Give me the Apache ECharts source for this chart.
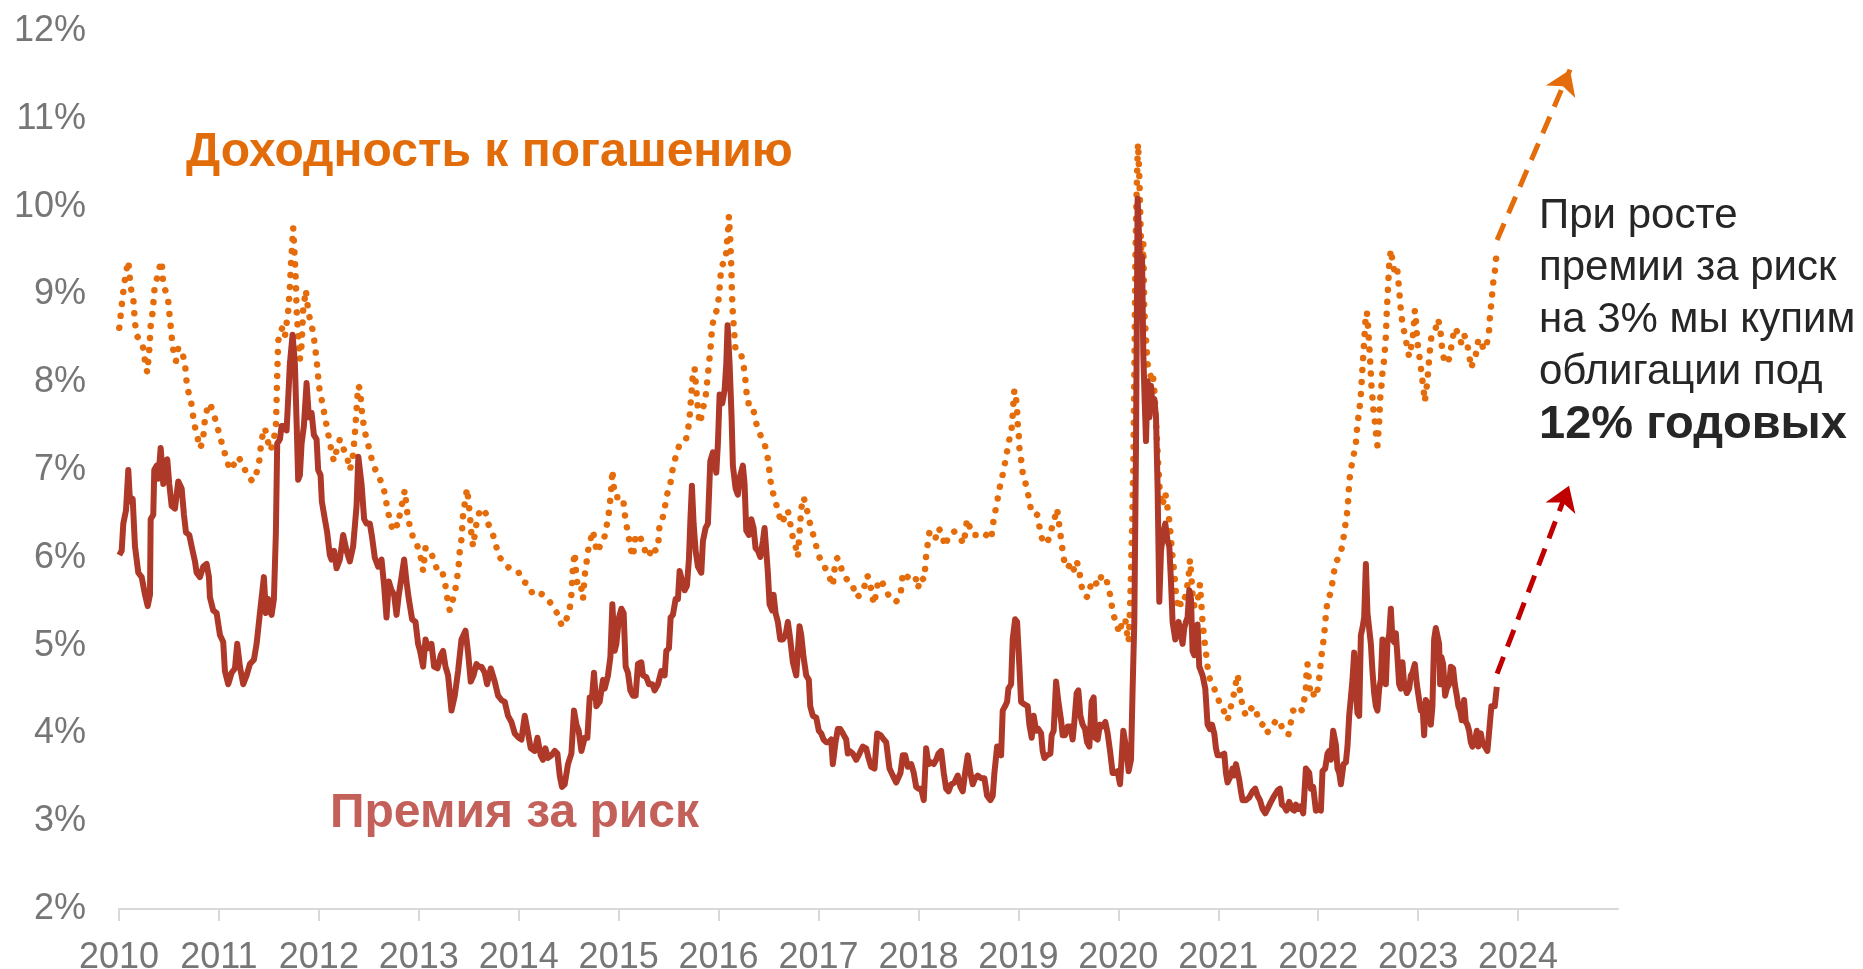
<!DOCTYPE html>
<html>
<head>
<meta charset="utf-8">
<script src="https://cdn.jsdelivr.net/npm/echarts@6/dist/echarts.min.js"></script>
<style>
html,body{margin:0;padding:0;background:#fff;}
#c{width:1863px;height:969px;}
</style>
</head>
<body>
<div id="c"></div>
<script>
// ---------- DATA ----------
const xTickYears = [2010,2011,2012,2013,2014,2015,2016,2017,2018,2019,2020,2021,2022,2023,2024];
const yTickValues = [2,3,4,5,6,7,8,9,10,11,12];

const premiumYears = [
2010.003,2010.027,2010.043,2010.07,2010.093,2010.11,2010.137,2010.16,2010.193,2010.227,2010.26,2010.287,2010.31,2010.317,2010.343,2010.353,2010.377,2010.393,2010.417,2010.443,2010.46,2010.483,2010.503,2010.527,2010.56,2010.593,2010.627,2010.65,2010.67,2010.703,2010.727,2010.76,2010.777,2010.81,2010.843,2010.877,2010.9,2010.91,2010.943,2010.977,
2011.01,2011.043,2011.06,2011.093,2011.127,2011.16,2011.183,2011.21,2011.243,2011.277,2011.31,2011.35,2011.377,2011.41,2011.45,2011.47,2011.493,2011.527,2011.55,2011.57,2011.583,2011.61,2011.627,2011.66,2011.677,2011.693,2011.71,2011.737,2011.76,2011.777,2011.793,2011.81,2011.827,2011.85,2011.877,2011.9,2011.927,2011.95,2011.977,2011.993,
2012.017,2012.03,2012.06,2012.083,2012.11,2012.127,2012.153,2012.177,2012.21,2012.243,2012.277,2012.31,2012.343,2012.377,2012.395,2012.427,2012.453,2012.477,2012.51,2012.533,2012.56,2012.593,2012.627,2012.653,2012.677,2012.7,2012.727,2012.753,2012.777,2012.8,2012.827,2012.853,2012.877,2012.9,2012.933,2012.967,2012.993,
2013.013,2013.043,2013.067,2013.093,2013.127,2013.153,2013.187,2013.22,2013.243,2013.267,2013.293,2013.327,2013.36,2013.393,2013.427,2013.467,2013.493,2013.52,2013.547,2013.577,2013.6,2013.627,2013.66,2013.683,2013.72,2013.76,2013.793,2013.827,2013.86,2013.893,2013.927,2013.96,
2014.0,2014.027,2014.06,2014.093,2014.12,2014.16,2014.187,2014.22,2014.243,2014.267,2014.293,2014.327,2014.36,2014.387,2014.41,2014.433,2014.46,2014.493,2014.527,2014.553,2014.577,2014.6,2014.627,2014.66,2014.687,2014.71,2014.733,2014.753,2014.777,2014.81,2014.843,2014.86,2014.893,2014.917,2014.937,2014.96,2014.977,
2015.003,2015.027,2015.05,2015.07,2015.093,2015.117,2015.143,2015.17,2015.193,2015.227,2015.243,2015.277,2015.303,2015.337,2015.36,2015.393,2015.427,2015.46,2015.477,2015.503,2015.52,2015.543,2015.57,2015.593,2015.61,2015.637,2015.66,2015.683,2015.703,2015.717,2015.733,2015.75,2015.77,2015.793,2015.827,2015.843,2015.87,2015.893,2015.917,2015.943,2015.977,2015.993,
2016.01,2016.037,2016.06,2016.077,2016.09,2016.11,2016.13,2016.143,2016.17,2016.193,2016.217,2016.243,2016.26,2016.277,2016.303,2016.327,2016.35,2016.37,2016.393,2016.417,2016.443,2016.46,2016.477,2016.493,2016.51,2016.537,2016.55,2016.57,2016.593,2016.617,2016.643,2016.67,2016.693,2016.717,2016.743,2016.777,2016.81,2016.827,2016.85,2016.877,2016.903,2016.917,2016.943,2016.977,
2017.003,2017.027,2017.05,2017.077,2017.103,2017.127,2017.143,2017.17,2017.193,2017.217,2017.243,2017.277,2017.293,2017.31,2017.343,2017.377,2017.41,2017.443,2017.477,2017.5,2017.527,2017.56,2017.587,2017.62,2017.653,2017.677,2017.71,2017.743,2017.777,2017.793,2017.82,2017.843,2017.867,2017.893,2017.927,2017.953,2017.977,
2018.0,2018.027,2018.053,2018.077,2018.1,2018.127,2018.153,2018.177,2018.2,2018.227,2018.253,2018.277,2018.3,2018.327,2018.36,2018.393,2018.42,2018.443,2018.467,2018.493,2018.52,2018.543,2018.567,2018.593,2018.627,2018.66,2018.687,2018.72,2018.743,2018.76,2018.787,2018.81,2018.827,2018.843,2018.867,2018.887,2018.9,2018.927,2018.943,2018.967,2018.987,
2019.01,2019.027,2019.06,2019.093,2019.11,2019.133,2019.153,2019.177,2019.2,2019.227,2019.243,2019.26,2019.287,2019.32,2019.333,2019.353,2019.377,2019.4,2019.427,2019.443,2019.467,2019.493,2019.52,2019.543,2019.56,2019.583,2019.6,2019.62,2019.643,2019.667,2019.687,2019.71,2019.733,2019.753,2019.77,2019.793,2019.817,2019.843,2019.87,2019.893,2019.917,2019.943,2019.97,2019.993,
2020.017,2020.037,2020.05,2020.07,2020.083,2020.103,2020.127,2020.143,2020.16,2020.177,2020.193,2020.21,2020.22,2020.237,2020.25,2020.263,2020.277,2020.293,2020.31,2020.327,2020.343,2020.36,2020.377,2020.393,2020.41,2020.427,2020.45,2020.47,2020.493,2020.51,2020.527,2020.543,2020.57,2020.583,2020.603,2020.627,2020.643,2020.66,2020.677,2020.693,2020.71,2020.727,2020.743,2020.76,2020.777,2020.793,2020.81,2020.827,2020.843,2020.87,2020.893,2020.917,2020.937,2020.96,2020.977,2020.993,
2021.027,2021.06,2021.077,2021.093,2021.11,2021.127,2021.143,2021.16,2021.177,2021.193,2021.21,2021.227,2021.243,2021.277,2021.31,2021.343,2021.37,2021.393,2021.417,2021.443,2021.47,2021.493,2021.527,2021.56,2021.593,2021.617,2021.637,2021.66,2021.683,2021.71,2021.737,2021.76,2021.777,2021.803,2021.827,2021.85,2021.877,2021.893,2021.91,2021.927,2021.95,2021.977,
2022.003,2022.027,2022.043,2022.07,2022.093,2022.11,2022.127,2022.15,2022.177,2022.193,2022.21,2022.227,2022.253,2022.277,2022.293,2022.31,2022.327,2022.343,2022.36,2022.377,2022.393,2022.41,2022.427,2022.443,2022.46,2022.477,2022.493,2022.51,2022.527,2022.543,2022.56,2022.577,2022.593,2022.61,2022.627,2022.643,2022.66,2022.677,2022.693,2022.71,2022.727,2022.743,2022.76,2022.777,2022.793,2022.81,2022.827,2022.843,2022.86,2022.887,2022.91,2022.927,2022.943,2022.967,2022.987,
2023.01,2023.027,2023.043,2023.06,2023.077,2023.093,2023.11,2023.127,2023.143,2023.16,2023.177,2023.193,2023.21,2023.22,2023.233,2023.25,2023.27,2023.287,2023.31,2023.327,2023.35,2023.367,2023.387,2023.403,2023.42,2023.437,2023.46,2023.477,2023.493,2023.51,2023.527,2023.543,2023.567,2023.587,2023.603,2023.627,2023.643,2023.667,2023.693,2023.713,2023.733,2023.753,2023.767,2023.787
];
const premiumValues = [
6.03,6.08,6.39,6.54,7.0,6.64,6.67,6.13,5.83,5.78,5.58,5.45,5.58,6.44,6.49,7.0,7.05,6.9,7.25,6.84,7.1,7.12,6.84,6.59,6.56,6.87,6.79,6.49,6.29,6.26,6.13,5.96,5.83,5.78,5.9,5.93,5.78,5.55,5.4,5.37,
5.12,5.04,4.71,4.56,4.69,4.74,5.02,4.76,4.56,4.66,4.79,4.84,5.02,5.37,5.78,5.37,5.53,5.35,5.53,6.29,7.3,7.35,7.5,7.5,7.45,7.81,8.21,8.54,8.21,7.55,6.89,6.94,7.3,7.5,7.99,7.6,7.65,7.4,7.35,7.0,
6.94,6.64,6.44,6.29,6.03,5.98,6.08,5.88,5.98,6.26,6.08,5.96,6.13,6.59,7.15,6.84,6.44,6.39,6.39,6.23,6.0,5.9,5.98,5.68,5.32,5.73,5.63,5.58,5.35,5.58,5.78,5.98,5.73,5.53,5.3,5.27,5.02,
4.94,4.76,5.07,4.97,5.02,4.76,4.74,4.89,4.94,4.76,4.66,4.26,4.43,4.71,5.07,5.17,4.92,4.59,4.66,4.79,4.76,4.76,4.69,4.56,4.74,4.59,4.43,4.38,4.36,4.2,4.13,4.0,
3.95,3.93,4.2,4.0,3.83,3.8,3.95,3.75,3.7,3.83,3.72,3.75,3.8,3.77,3.52,3.39,3.42,3.65,3.77,4.26,4.1,4.03,3.8,3.95,3.95,4.41,4.41,4.69,4.31,4.36,4.61,4.51,4.66,4.87,5.47,4.94,5.02,
5.32,5.42,5.37,4.76,4.69,4.49,4.43,4.43,4.79,4.81,4.66,4.64,4.56,4.56,4.49,4.56,4.71,4.66,4.94,4.97,5.32,5.35,5.53,5.53,5.85,5.73,5.63,5.68,5.98,6.41,6.82,6.39,6.08,5.9,5.83,6.19,6.34,6.39,7.1,7.2,6.97,7.3,
7.86,7.76,7.91,8.21,8.65,8.21,7.6,7.05,6.79,6.72,6.94,7.05,6.84,6.31,6.26,6.44,6.34,6.11,6.08,6.01,6.19,6.34,6.08,5.83,5.47,5.4,5.58,5.37,5.27,5.07,5.07,5.12,5.27,5.07,4.81,4.66,5.22,5.12,4.87,4.66,4.61,4.31,4.2,4.18,
4.03,4.0,3.93,3.9,3.9,3.93,3.65,3.9,4.05,4.05,4.0,3.93,3.77,3.8,3.77,3.7,3.77,3.85,3.83,3.72,3.62,3.6,4.0,3.98,3.93,3.9,3.6,3.52,3.44,3.42,3.55,3.75,3.75,3.62,3.65,3.55,3.39,
3.37,3.37,3.24,3.83,3.65,3.67,3.65,3.7,3.77,3.8,3.55,3.37,3.34,3.42,3.44,3.52,3.39,3.34,3.55,3.75,3.55,3.42,3.49,3.52,3.49,3.49,3.29,3.24,3.29,3.55,3.85,3.85,3.75,4.26,4.31,4.36,4.51,4.56,5.07,5.3,5.27,
4.76,4.36,4.33,4.31,4.1,3.95,4.2,4.03,4.05,4.0,3.8,3.72,3.75,3.77,3.98,4.03,4.59,4.36,4.15,3.98,3.98,4.08,4.08,3.93,4.13,4.46,4.49,4.2,4.1,4.05,3.9,3.85,4.36,4.41,3.95,3.93,4.1,4.08,4.13,4.0,3.8,3.55,3.55,3.57,
3.42,3.44,4.03,4.03,3.8,3.57,3.7,4.51,5.27,7.3,10.09,9.58,9.08,9.43,8.32,7.81,7.33,8.01,7.6,7.96,7.71,7.81,7.6,6.79,5.5,6.08,6.29,6.39,6.19,6.13,5.73,5.27,5.07,5.12,5.27,5.12,5.02,5.2,5.27,5.32,5.63,5.53,4.94,4.89,4.87,5.24,4.76,4.71,4.66,4.51,4.1,4.05,4.1,4.0,3.83,3.75,
3.75,3.77,3.55,3.44,3.42,3.52,3.6,3.52,3.65,3.65,3.47,3.34,3.24,3.24,3.27,3.34,3.37,3.29,3.24,3.14,3.09,3.14,3.22,3.29,3.35,3.37,3.19,3.17,3.12,3.22,3.14,3.12,3.19,3.14,3.17,3.09,3.6,3.62,3.55,3.37,3.39,3.12,
3.14,3.12,3.57,3.6,3.77,3.8,3.7,4.03,3.87,3.6,3.55,3.42,3.65,3.67,3.85,4.2,4.41,4.61,4.92,4.51,4.23,4.2,5.12,5.2,5.32,5.93,5.37,5.37,5.02,4.71,4.46,4.31,4.26,4.51,4.61,5.07,5.07,4.56,5.04,5.12,5.42,5.07,5.04,5.14,4.87,4.56,4.51,4.81,4.56,4.46,4.51,4.66,4.69,4.79,4.56,
4.38,4.26,4.33,3.98,4.38,4.38,4.31,4.1,4.31,5.07,5.2,5.22,5.02,4.56,4.87,4.79,4.43,4.51,4.56,4.76,4.74,4.56,4.43,4.31,4.26,4.15,4.38,4.13,4.1,4.03,3.9,3.85,3.9,4.03,3.85,4.0,3.9,3.85,3.8,4.05,4.31,4.33,4.31,4.53
];

const yieldYears = [
2010.003,2010.027,2010.05,2010.07,2010.093,2010.117,2010.143,2010.16,2010.183,2010.217,2010.243,2010.26,2010.283,2010.303,2010.317,2010.337,2010.36,2010.387,2010.41,2010.427,2010.443,2010.47,2010.493,2010.503,2010.517,2010.527,2010.543,2010.57,2010.593,2010.627,2010.66,2010.683,2010.717,2010.737,2010.75,2010.783,2010.803,2010.837,2010.86,2010.883,2010.91,2010.95,2010.983,
2011.01,2011.043,2011.077,2011.11,2011.143,2011.193,2011.237,2011.283,2011.337,2011.377,2011.403,2011.427,2011.46,2011.483,2011.517,2011.55,2011.57,2011.583,2011.593,2011.617,2011.637,2011.66,2011.677,2011.693,2011.71,2011.72,2011.73,2011.743,2011.76,2011.77,2011.777,2011.793,2011.81,2011.827,2011.843,2011.87,2011.893,2011.91,2011.943,2011.96,2011.977,2011.993,
2012.01,2012.037,2012.06,2012.083,2012.103,2012.127,2012.15,2012.177,2012.21,2012.243,2012.283,2012.31,2012.337,2012.36,2012.377,2012.393,2012.41,2012.42,2012.433,2012.453,2012.477,2012.51,2012.533,2012.567,2012.6,2012.643,2012.667,2012.687,2012.71,2012.733,2012.76,2012.787,2012.81,2012.833,2012.86,2012.887,2012.91,2012.943,2012.987,
2013.02,2013.043,2013.067,2013.1,2013.143,2013.187,2013.233,2013.26,2013.287,2013.31,2013.343,2013.367,2013.387,2013.4,2013.41,2013.427,2013.443,2013.46,2013.483,2013.51,2013.527,2013.543,2013.577,2013.61,2013.643,2013.677,2013.693,2013.727,2013.767,2013.793,2013.827,2013.887,2013.943,
2014.0,2014.043,2014.093,2014.143,2014.2,2014.243,2014.287,2014.343,2014.393,2014.433,2014.477,2014.51,2014.527,2014.543,2014.56,2014.577,2014.6,2014.627,2014.643,2014.66,2014.677,2014.693,2014.72,2014.743,2014.76,2014.787,2014.827,2014.853,2014.87,2014.893,2014.91,2014.92,2014.93,2014.937,2014.95,2014.97,
2015.01,2015.043,2015.07,2015.093,2015.117,2015.143,2015.17,2015.203,2015.237,2015.27,2015.303,2015.337,2015.37,2015.393,2015.41,2015.437,2015.46,2015.483,2015.51,2015.537,2015.57,2015.603,2015.637,2015.67,2015.693,2015.71,2015.727,2015.743,2015.76,2015.777,2015.793,2015.81,2015.827,2015.85,2015.87,2015.893,2015.917,2015.937,2015.96,2015.983,
2016.003,2016.017,2016.03,2016.05,2016.07,2016.083,2016.097,2016.103,2016.117,2016.127,2016.133,2016.143,2016.153,2016.17,2016.193,2016.227,2016.25,2016.267,2016.277,2016.293,2016.327,2016.36,2016.383,2016.41,2016.437,2016.46,2016.487,2016.503,2016.517,2016.537,2016.57,2016.603,2016.637,2016.67,2016.693,2016.717,2016.737,2016.77,2016.793,2016.81,2016.827,2016.85,2016.877,2016.903,2016.927,2016.96,2016.993,
2017.027,2017.06,2017.103,2017.143,2017.17,2017.193,2017.237,2017.27,2017.31,2017.343,2017.377,2017.42,2017.46,2017.487,2017.51,2017.527,2017.553,2017.577,2017.6,2017.633,2017.667,2017.72,2017.777,2017.82,2017.833,2017.843,2017.893,2017.933,2017.967,2017.993,
2018.027,2018.053,2018.067,2018.077,2018.093,2018.11,2018.143,2018.167,2018.2,2018.243,2018.26,2018.31,2018.36,2018.42,2018.453,2018.487,2018.51,2018.543,2018.577,2018.627,2018.677,2018.727,2018.743,2018.76,2018.787,2018.8,2018.827,2018.853,2018.877,2018.893,2018.91,2018.933,2018.943,2018.953,2018.96,2018.977,2018.987,2018.993,
2019.003,2019.01,2019.027,2019.043,2019.06,2019.087,2019.11,2019.133,2019.16,2019.187,2019.21,2019.233,2019.26,2019.293,2019.327,2019.36,2019.387,2019.41,2019.427,2019.443,2019.46,2019.493,2019.527,2019.56,2019.587,2019.61,2019.627,2019.653,2019.693,2019.727,2019.76,2019.793,2019.827,2019.87,2019.903,2019.927,2019.943,2019.977,
2020.01,2020.043,2020.07,2020.083,2020.103,2020.117,2020.127,2020.137,2020.15,2020.16,2020.17,2020.177,2020.187,2020.197,2020.21,2020.227,2020.237,2020.25,2020.26,2020.283,2020.293,2020.31,2020.327,2020.343,2020.36,2020.377,2020.393,2020.41,2020.427,2020.45,2020.47,2020.483,2020.503,2020.517,2020.537,2020.56,2020.577,2020.593,2020.61,2020.627,2020.65,2020.677,2020.703,2020.717,2020.727,2020.743,2020.76,2020.783,2020.803,2020.817,2020.827,2020.843,2020.86,2020.877,2020.893,2020.91,2020.927,2020.95,2020.977,
2021.01,2021.043,2021.07,2021.093,2021.117,2021.137,2021.15,2021.17,2021.193,2021.21,2021.227,2021.25,2021.277,2021.303,2021.327,2021.35,2021.377,2021.41,2021.443,2021.477,2021.51,2021.543,2021.577,2021.61,2021.643,2021.677,2021.703,2021.727,2021.75,2021.777,2021.81,2021.837,2021.86,2021.877,2021.883,2021.893,2021.903,2021.917,2021.937,2021.96,2021.983,
2022.003,2022.017,2022.027,2022.043,2022.06,2022.07,2022.083,2022.093,2022.11,2022.127,2022.143,2022.16,2022.177,2022.193,2022.243,2022.26,2022.277,2022.293,2022.31,2022.32,2022.343,2022.36,2022.377,2022.393,2022.41,2022.427,2022.443,2022.46,2022.477,2022.487,2022.5,2022.51,2022.52,2022.533,2022.553,2022.567,2022.58,2022.593,2022.61,2022.62,2022.633,2022.643,2022.66,2022.677,2022.687,2022.7,2022.71,2022.727,2022.743,2022.76,2022.787,2022.8,2022.81,2022.827,2022.843,2022.867,2022.887,2022.91,2022.933,2022.953,2022.967,2022.977,2022.987,
2023.0,2023.02,2023.033,2023.053,2023.067,2023.087,2023.1,2023.11,2023.12,2023.133,2023.153,2023.177,2023.2,2023.22,2023.233,2023.243,2023.26,2023.293,2023.32,2023.343,2023.367,2023.387,2023.41,2023.433,2023.46,2023.487,2023.51,2023.533,2023.553,2023.577,2023.6,2023.627,2023.653,2023.677,2023.693,2023.71,2023.72,2023.733,2023.743,2023.753,2023.77,2023.787
];
const yieldValues = [
8.62,8.87,9.1,9.25,9.38,9.08,8.95,8.67,8.52,8.47,8.39,8.24,8.11,8.37,8.64,8.8,9.13,9.2,9.33,9.38,9.1,9.03,8.92,8.8,8.64,8.52,8.37,8.24,8.39,8.37,8.21,7.93,7.81,7.66,7.53,7.4,7.25,7.3,7.58,7.7,7.76,7.63,7.5,
7.38,7.25,7.12,7.0,7.05,7.15,7.07,6.94,6.87,6.97,7.1,7.35,7.48,7.35,7.22,7.35,7.5,8.06,8.47,8.59,8.62,8.52,8.67,8.8,9.08,9.33,9.51,9.76,9.38,9.13,8.82,8.52,8.26,8.42,8.82,9.05,8.82,8.72,8.57,8.42,8.26,8.06,
7.88,7.76,7.6,7.48,7.35,7.22,7.1,7.22,7.35,7.25,7.15,7.0,7.12,7.4,7.68,7.96,7.93,7.81,7.63,7.48,7.35,7.22,7.1,7.0,6.92,6.82,6.69,6.54,6.44,6.34,6.41,6.36,6.49,6.62,6.77,6.49,6.36,6.23,6.13,
6.0,5.85,6.11,6.11,6.0,5.85,5.85,5.73,5.53,5.4,5.53,5.65,5.8,5.93,6.08,6.21,6.49,6.62,6.79,6.51,6.26,6.13,6.39,6.54,6.56,6.49,6.39,6.31,6.18,6.03,5.98,5.9,5.85,
5.83,5.73,5.7,5.58,5.6,5.58,5.53,5.45,5.35,5.22,5.3,5.42,5.58,5.9,6.06,5.78,5.63,5.65,5.53,5.8,5.93,6.08,6.21,6.31,6.18,6.06,6.18,6.21,6.31,6.44,6.59,6.72,6.84,7.0,6.82,6.69,
6.69,6.69,6.41,6.29,6.11,6.01,6.26,6.26,6.18,6.06,6.01,6.13,6.08,6.11,6.39,6.44,6.56,6.72,6.79,6.99,7.15,7.27,7.3,7.33,7.45,7.6,7.86,8.09,8.16,7.91,7.7,7.53,7.6,7.73,7.83,8.09,8.36,8.64,8.77,8.82,
8.97,9.18,9.33,9.33,9.38,9.58,9.76,9.89,9.61,9.33,9.03,8.77,8.62,8.36,8.34,8.31,8.19,8.04,7.91,7.76,7.76,7.63,7.5,7.42,7.35,7.3,7.17,7.05,6.89,6.77,6.64,6.49,6.39,6.51,6.54,6.39,6.26,6.13,6.01,6.29,6.56,6.69,6.59,6.44,6.34,6.21,6.06,
5.95,5.9,5.8,5.68,5.98,6.0,5.85,5.78,5.7,5.68,5.55,5.58,5.68,5.8,5.75,5.63,5.47,5.6,5.75,5.73,5.65,5.53,5.5,5.58,5.7,5.83,5.78,5.78,5.8,5.65,
5.78,5.75,5.88,6.03,6.16,6.29,6.26,6.21,6.34,6.26,6.13,6.26,6.3,6.22,6.16,6.44,6.36,6.26,6.26,6.23,6.26,6.21,6.36,6.49,6.62,6.74,6.87,7.0,7.15,7.25,7.35,7.48,7.63,7.81,7.91,7.81,7.68,7.53,
7.4,7.25,7.12,6.97,6.89,6.79,6.64,6.51,6.51,6.49,6.36,6.23,6.16,6.18,6.31,6.44,6.56,6.36,6.21,6.08,5.95,5.88,5.95,5.85,5.95,5.85,5.7,5.58,5.55,5.7,5.75,5.68,5.78,5.8,5.65,5.53,5.37,5.27,
5.14,5.3,5.3,5.17,5.04,5.42,5.83,6.29,7.05,8.06,9.33,9.84,10.34,10.72,10.34,9.58,9.08,9.58,8.82,8.37,8.21,8.11,8.06,8.11,7.91,7.55,7.2,6.84,6.59,6.64,6.74,6.64,6.49,6.34,6.08,5.83,5.58,5.47,5.53,5.45,5.5,5.58,5.78,5.98,5.85,5.58,5.45,5.45,5.58,5.7,5.53,5.27,5.07,4.92,4.76,4.64,4.59,4.54,4.46,
4.36,4.31,4.2,4.15,4.26,4.36,4.41,4.54,4.67,4.54,4.41,4.28,4.2,4.26,4.28,4.31,4.26,4.13,4.1,4.0,4.03,4.08,4.15,4.15,4.05,3.99,3.99,4.13,4.26,4.28,4.31,4.26,4.38,4.51,4.69,4.79,4.66,4.51,4.54,4.41,4.43,
4.56,4.69,4.84,4.97,5.12,5.27,5.4,5.53,5.55,5.6,5.73,5.85,5.95,5.98,6.13,6.29,6.41,6.54,6.84,6.97,7.1,7.2,7.3,7.53,7.66,7.86,8.16,8.47,8.77,8.8,8.62,8.42,8.24,7.96,7.68,7.55,7.4,7.28,7.55,7.81,7.96,8.11,8.26,8.52,8.82,9.1,9.33,9.51,9.38,9.28,9.33,9.18,9.05,8.82,8.67,8.54,8.42,8.29,8.42,8.57,8.82,8.72,8.54,
8.39,8.24,8.11,7.93,7.78,7.96,8.11,8.26,8.39,8.52,8.57,8.62,8.72,8.62,8.47,8.34,8.26,8.21,8.31,8.49,8.62,8.64,8.54,8.44,8.54,8.47,8.31,8.16,8.26,8.31,8.47,8.49,8.37,8.39,8.47,8.59,8.77,8.9,9.03,9.15,9.28,9.5
];

// forecast arrows: [year, %] start and end
const yieldArrow = [[2023.79, 9.62], [2024.52, 11.56]];
const premiumArrow = [[2023.79, 4.68], [2024.51, 6.82]];

const yieldLabel = 'Доходность к погашению';
const premiumLabel = 'Премия за риск';
const noteLines = ['При росте', 'премии за риск', 'на 3% мы купим', 'облигации под'];
const noteBold = '12% годовых';

// ---------- CHART ----------
const FONT = '"Liberation Sans", Arial, sans-serif';
const chart = echarts.init(document.getElementById('c'), null, {renderer: 'canvas', width: 1863, height: 969});

const zip = (xs, ys) => xs.map((x, i) => [x, ys[i]]);

const graphics = [
  {type: 'text', x: 186, y: 153, z: 10,
   style: {text: yieldLabel, fill: '#E36C0A', font: 'bold 48px ' + FONT, verticalAlign: 'middle'}},
  {type: 'text', x: 330, y: 814, z: 10,
   style: {text: premiumLabel, fill: '#C3605A', font: 'bold 48px ' + FONT, verticalAlign: 'middle'}}
];
noteLines.forEach((t, i) => {
  graphics.push({type: 'text', x: 1539, y: 216 + i * 52, z: 10,
    style: {text: t, fill: '#262626', font: '42px ' + FONT, verticalAlign: 'middle'}});
});
graphics.push({type: 'text', x: 1539, y: 217 + 4 * 52, z: 10,
  style: {text: noteBold, fill: '#262626', font: 'bold 47px ' + FONT, verticalAlign: 'middle'}});

chart.setOption({
  animation: false,
  backgroundColor: '#ffffff',
  textStyle: {fontFamily: FONT},
  grid: {left: 119, right: 245, top: 31, bottom: 60, containLabel: false, outerBoundsMode: 'none'},
  xAxis: {
    type: 'value', min: 2010, max: 2025, interval: 1,
    axisLine: {show: true, lineStyle: {color: '#D9D9D9', width: 2}},
    axisTick: {show: true, length: 12, lineStyle: {color: '#D9D9D9', width: 2}, customValues: xTickYears},
    axisLabel: {customValues: xTickYears, formatter: v => String(v), color: '#767676', fontSize: 36, fontFamily: FONT, margin: 31},
    splitLine: {show: false}
  },
  yAxis: {
    type: 'value', min: yTickValues[0], max: yTickValues[yTickValues.length - 1], interval: 1,
    axisLine: {show: false}, axisTick: {show: false}, splitLine: {show: false},
    axisLabel: {formatter: '{value}%', color: '#767676', fontSize: 36, fontFamily: FONT, margin: 33}
  },
  graphic: graphics,
  series: [
    {
      name: yieldLabel, type: 'line', data: zip(yieldYears, yieldValues),
      showSymbol: false, z: 2,
      lineStyle: {color: '#E46C0A', width: 6.5, type: [0.01, 12], cap: 'round', join: 'round'}
    },
    {
      name: premiumLabel, type: 'line', data: zip(premiumYears, premiumValues),
      showSymbol: false, z: 3,
      lineStyle: {color: '#AE3928', width: 6, join: 'round'}
    },
    {
      type: 'lines', coordinateSystem: 'cartesian2d', z: 4,
      symbol: ['none', 'arrow'], symbolSize: 24,
      lineStyle: {color: '#E46C0A', width: 5, type: [18, 11], opacity: 1},
      data: [{coords: yieldArrow}]
    },
    {
      type: 'lines', coordinateSystem: 'cartesian2d', z: 4,
      symbol: ['none', 'arrow'], symbolSize: 24,
      lineStyle: {color: '#C00000', width: 5, type: [18, 11], opacity: 1},
      data: [{coords: premiumArrow}]
    }
  ]
});
</script>
</body>
</html>
